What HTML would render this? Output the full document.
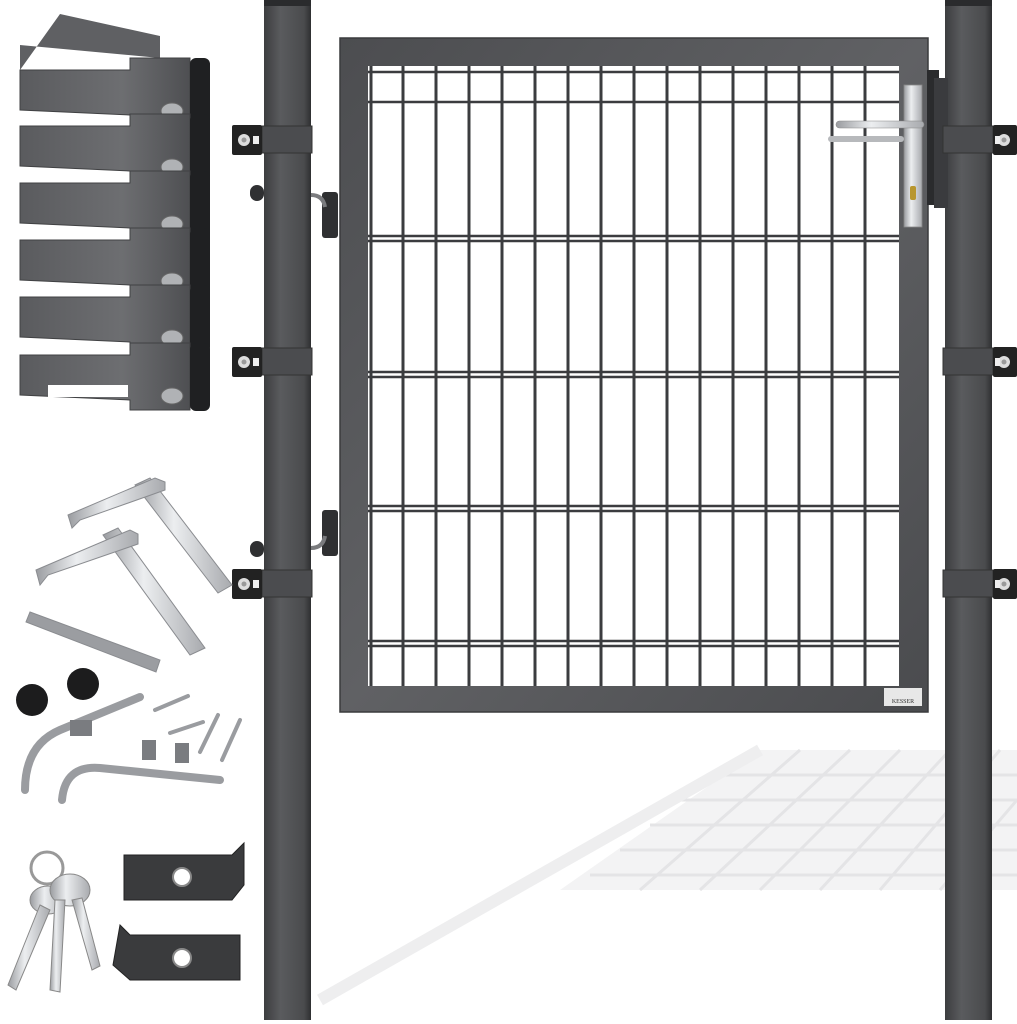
<!DOCTYPE html>
<html><head><meta charset="utf-8"><style>html,body{margin:0;padding:0;background:#fff}svg{display:block}</style></head>
<body>
<svg width="1017" height="1024" viewBox="0 0 1017 1024" xmlns="http://www.w3.org/2000/svg">
<defs>
<linearGradient id="post" x1="0" x2="1"><stop offset="0" stop-color="#3c3d3f"/><stop offset="0.35" stop-color="#5a5b5e"/><stop offset="0.85" stop-color="#4a4b4d"/><stop offset="1" stop-color="#2e2f31"/></linearGradient>
<linearGradient id="frame" x1="0" x2="1" y1="0" y2="1"><stop offset="0" stop-color="#4c4d50"/><stop offset="0.5" stop-color="#606164"/><stop offset="1" stop-color="#4a4b4e"/></linearGradient>
<linearGradient id="steel" x1="0" x2="1"><stop offset="0" stop-color="#9a9ca0"/><stop offset="0.4" stop-color="#eceef0"/><stop offset="1" stop-color="#a8aaae"/></linearGradient>
<linearGradient id="clamp" x1="0" x2="1"><stop offset="0" stop-color="#5a5b5e"/><stop offset="0.6" stop-color="#6d6e71"/><stop offset="1" stop-color="#4e4f52"/></linearGradient>
</defs>
<rect width="1017" height="1024" fill="#fff"/>
<!-- ground shadow -->
<g stroke="#e4e4e6" stroke-width="3" fill="none">
<polygon points="560,890 1017,890 1017,750 760,750" fill="#f3f3f4" stroke="none"/>
<path d="M590,875 H1017 M620,850 H1017 M650,825 H1017 M680,800 H1017 M710,775 H1017"/>
<path d="M640,890 L800,750 M700,890 L850,750 M760,890 L900,750 M820,890 L950,750 M880,890 L1000,750 M940,890 L1017,800"/>
<path d="M320,1000 L760,750" stroke="#eeeeef" stroke-width="12"/>
</g>
<!-- posts -->
<rect x="264" y="4" width="47" height="1016" fill="url(#post)"/>
<rect x="264" y="0" width="47" height="6" fill="#2a2b2d"/>
<rect x="945" y="4" width="47" height="1016" fill="url(#post)"/>
<rect x="945" y="0" width="47" height="6" fill="#2a2b2d"/>
<!-- gate frame -->
<path d="M340,38 H928 V712 H340 Z M368,66 V686 H899 V66 Z" fill="url(#frame)" fill-rule="evenodd"/>
<rect x="340" y="38" width="588" height="674" fill="none" stroke="#3a3b3d" stroke-width="1.5"/>
<!-- mesh -->
<g stroke="#3b3c3f" stroke-width="3">
<path d="M371,66V686 M403,66V686 M436,66V686 M469,66V686 M502,66V686 M535,66V686 M568,66V686 M601,66V686 M634,66V686 M667,66V686 M700,66V686 M733,66V686 M766,66V686 M799,66V686 M832,66V686 M865,66V686"/>
<path d="M368,72H899 M368,102H899 M368,236H899 M368,241H899 M368,372H899 M368,377H899 M368,506H899 M368,511H899 M368,641H899 M368,646H899" stroke-width="2.5"/>
</g>
<!-- lock -->
<rect x="927" y="70" width="12" height="135" fill="#2a2b2d"/>
<rect x="934" y="78" width="14" height="130" fill="#3a3b3e"/>
<rect x="904" y="85" width="18" height="142" fill="url(#steel)" stroke="#888" stroke-width="0.8"/>
<rect x="836" y="121" width="88" height="7" rx="3.5" fill="url(#steel)" stroke="#888" stroke-width="0.6"/>
<rect x="828" y="136" width="76" height="6" rx="3" fill="#b7b9bc"/>
<rect x="910" y="186" width="6" height="14" rx="2" fill="#b8962e"/>
<!-- hinges left -->
<g fill="#2f3032">
<rect x="322" y="192" width="16" height="46" rx="3"/>
<rect x="322" y="510" width="16" height="46" rx="3"/>
<path d="M311,195 q12,0 14,12" stroke="#7a7b7e" stroke-width="4" fill="none"/>
<path d="M311,548 q12,0 14,-12" stroke="#7a7b7e" stroke-width="4" fill="none"/>
<rect x="250" y="185" width="14" height="16" rx="7"/>
<rect x="250" y="541" width="14" height="16" rx="7"/>
</g>
<!-- clamps on posts -->
<g>
<g id="c1">
<rect x="262" y="126" width="50" height="27" fill="#4b4c4f" stroke="#333" stroke-width="1"/>
<rect x="232" y="125" width="30" height="30" rx="2" fill="#222"/>
<circle cx="244" cy="140" r="6" fill="#ddd"/><circle cx="244" cy="140" r="2.5" fill="#999"/>
<rect x="253" y="136" width="6" height="8" fill="#eee"/>
</g>
<use href="#c1" y="222"/>
<use href="#c1" y="444"/>
<g id="c2">
<rect x="943" y="126" width="50" height="27" fill="#4b4c4f" stroke="#333" stroke-width="1"/>
<rect x="993" y="125" width="24" height="30" rx="2" fill="#222"/>
<circle cx="1004" cy="140" r="6" fill="#ddd"/><circle cx="1004" cy="140" r="2.5" fill="#999"/>
<rect x="995" y="136" width="5" height="8" fill="#eee"/>
</g>
<use href="#c2" y="222"/>
<use href="#c2" y="444"/>
</g>
<!-- label plate -->
<rect x="884" y="688" width="38" height="18" fill="#e8e8e8"/>
<text x="903" y="703" font-family="Liberation Serif, serif" font-size="6" text-anchor="middle" fill="#333">KESSER</text>
<!-- clamp stack -->
<g>
<path d="M20,70 L60,14 L160,36 L160,58 L20,45 Z" fill="#5f6063"/>
<g id="cl">
<path d="M20,70 H130 V58 H190 V125 H130 V115 L20,110 Z" fill="url(#clamp)" stroke="#404143" stroke-width="1"/>
<rect x="190" y="58" width="20" height="68" rx="6" fill="#1f2022"/>
<ellipse cx="172" cy="111" rx="11" ry="8" fill="#b0b2b5" stroke="#666"/>
</g>
<use href="#cl" y="56"/><use href="#cl" y="113"/><use href="#cl" y="170"/><use href="#cl" y="227"/><use href="#cl" y="285"/>
<rect x="48" y="385" width="80" height="12" fill="#fff"/>
</g>
<!-- handles -->
<g fill="url(#steel)" stroke="#8a8c90" stroke-width="1">
<path d="M135,485 L150,478 L232,585 L218,593 Z"/>
<path d="M68,515 L155,478 L165,482 L165,490 L80,520 L72,528 Z"/>
<path d="M103,535 L118,528 L205,648 L190,655 Z"/>
<path d="M36,570 L130,530 L138,534 L138,544 L48,575 L40,585 Z"/>
<path d="M30,612 L160,660 L156,672 L26,622 Z" fill="#9b9da1"/>
</g>
<!-- caps -->
<circle cx="32" cy="700" r="16" fill="#1c1c1d"/>
<circle cx="83" cy="684" r="16" fill="#1c1c1d"/>
<!-- bolts -->
<g stroke="#9a9ca0" stroke-linecap="round" fill="none">
<path d="M140,697 L60,730 Q25,745 25,790" stroke-width="8"/>
<path d="M220,780 L100,768 Q65,765 62,800" stroke-width="8"/>
<path d="M155,710 L188,696 M170,733 L203,722 M200,752 L218,715 M222,760 L240,720" stroke-width="4"/>
</g>
<rect x="70" y="720" width="22" height="16" fill="#7a7c80"/>
<rect x="142" y="740" width="14" height="20" fill="#7a7c80"/><rect x="175" y="743" width="14" height="20" fill="#7a7c80"/>
<!-- keys -->
<g fill="url(#steel)" stroke="#888">
<circle cx="47" cy="868" r="16" fill="none" stroke="#999" stroke-width="3"/>
<ellipse cx="48" cy="900" rx="18" ry="14"/>
<ellipse cx="70" cy="890" rx="20" ry="16"/>
<path d="M40,905 L8,985 L16,990 L50,910 Z"/>
<path d="M55,900 L50,990 L60,992 L65,900 Z"/>
<path d="M72,900 L92,970 L100,966 L82,898 Z"/>
</g>
<!-- brackets -->
<g fill="#3a3b3d" stroke="#222">
<path d="M124,855 H232 L244,843 V885 L232,900 H124 Z"/>
<path d="M120,925 L130,935 H240 V980 H130 L113,965 Z"/>
</g>
<circle cx="182" cy="877" r="9" fill="#fff" stroke="#888" stroke-width="2"/>
<circle cx="182" cy="958" r="9" fill="#fff" stroke="#888" stroke-width="2"/>
</svg>
</body></html>
